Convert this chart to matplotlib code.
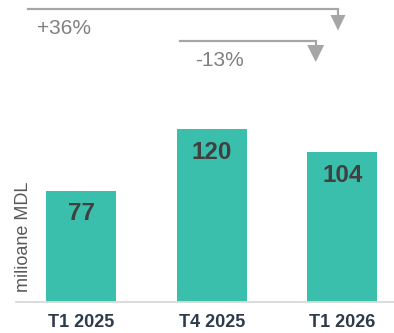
import matplotlib
matplotlib.use("Agg")
import matplotlib.pyplot as plt
from matplotlib.lines import Line2D
from matplotlib.patches import Polygon

plt.rcParams['font.family'] = ['Liberation Sans', 'DejaVu Sans']

periods = ["T1 2025", "T4 2025", "T1 2026"]
values = [77, 120, 104]
changes = ["+36%", "-13%"]

W, H = 394, 333
BAR = "#3bbfad"
ARROW = "#a6a6a6"

fig = plt.figure(figsize=(W / 100, H / 100), dpi=100)
ax = fig.add_axes([16 / W, 1 - 301.7 / H, 378 / W, 301.7 / H])

x = list(range(len(values)))
ax.bar(x, values, width=0.536, color=BAR, zorder=2)
ax.set_xlim(-0.5, 2.397)
ax.set_ylim(0, 210.1)

for xi, v in zip(x, values):
    ax.text(xi, v - 15.8, str(v), ha="center", va="center",
            fontsize=17.5, fontweight="bold", color="#404040")

ax.set_xticks(x)
ax.set_xticklabels(periods, fontsize=13, fontweight="bold", color="#2d3b4a")
ax.tick_params(axis="x", length=0, pad=8.6)
ax.set_yticks([])
for side in ["top", "right", "left"]:
    ax.spines[side].set_visible(False)
ax.spines["bottom"].set_color("#d9d9d9")
ax.spines["bottom"].set_linewidth(1.3)

ax.set_ylabel("milioane MDL", fontsize=13, color="#595959")
ax.yaxis.set_label_coords((32 - 16) / 378, (301.7 - 236.5) / 301.7)


def px(xp, yp):
    return xp / W, 1 - yp / H


def elbow_arrow(x0, x1, y, stem, tip, half):
    # horizontal run, short drop, then a filled head pointing down
    pts = [px(x0, y), px(x1, y), px(x1, stem)]
    fig.add_artist(Line2D([p[0] for p in pts], [p[1] for p in pts],
                          color=ARROW, linewidth=1.6,
                          solid_joinstyle="miter"))
    head = [px(x1 - half, stem - 0.5), px(x1 + half, stem - 0.5), px(x1, tip)]
    fig.add_artist(Polygon(head, closed=True, facecolor=ARROW,
                           edgecolor="none"))


elbow_arrow(27.7, 338, 8.7, 15.5, 30.5, 7.5)
elbow_arrow(180, 315.7, 41, 45.5, 62, 8.5)

fig.text(*px(64, 28.5), changes[0], ha="center", va="center",
         fontsize=15, color="#808080")
fig.text(*px(219.5, 61), changes[1], ha="center", va="center",
         fontsize=15, color="#808080")

fig.savefig("out.png", dpi=100)
